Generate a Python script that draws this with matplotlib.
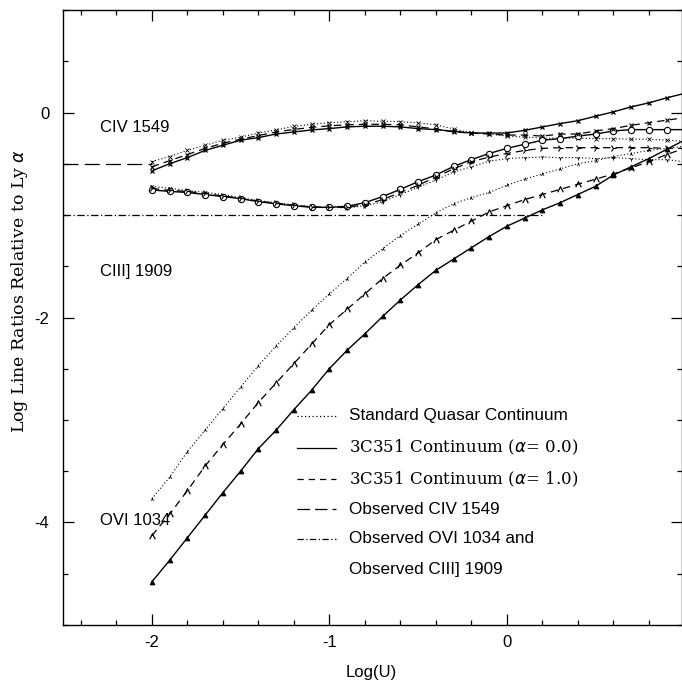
import matplotlib
matplotlib.use("Agg")
import matplotlib.pyplot as plt
from matplotlib.path import Path
from matplotlib.ticker import MultipleLocator

plt.rcParams["axes.unicode_minus"] = False

# Log(U) grid of the photoionization models
log_u = [-2.0, -1.9, -1.8, -1.7, -1.6, -1.5, -1.4, -1.3, -1.2, -1.1, -1.0,
         -0.9, -0.8, -0.7, -0.6, -0.5, -0.4, -0.3, -0.2, -0.1, 0.0,
         0.1, 0.2, 0.3, 0.4, 0.5, 0.6, 0.7, 0.8, 0.9, 1.0]

# CIV 1549 / Ly alpha
civ_std = [-0.48, -0.43, -0.37, -0.32, -0.27, -0.24, -0.20, -0.17, -0.135, -0.115, -0.10,
           -0.09, -0.08, -0.085, -0.09, -0.10, -0.12, -0.16, -0.20, -0.21, -0.23,
           -0.24, -0.25, -0.25, -0.25, -0.255, -0.255, -0.26, -0.26, -0.27, -0.28]
civ_a0 = [-0.57, -0.50, -0.44, -0.37, -0.32, -0.27, -0.245, -0.21, -0.19, -0.17, -0.157,
          -0.14, -0.134, -0.134, -0.14, -0.157, -0.167, -0.183, -0.20, -0.20, -0.20,
          -0.174, -0.141, -0.108, -0.08, -0.036, 0.006, 0.055, 0.094, 0.143, 0.186]
civ_a1 = [-0.53, -0.47, -0.41, -0.35, -0.30, -0.26, -0.225, -0.19, -0.165, -0.145, -0.13,
          -0.12, -0.115, -0.115, -0.12, -0.14, -0.16, -0.19, -0.20, -0.21, -0.22,
          -0.22, -0.23, -0.21, -0.21, -0.18, -0.157, -0.125, -0.10, -0.075, -0.05]

# CIII] 1909 / Ly alpha
ciii_std = [-0.72, -0.74, -0.76, -0.78, -0.80, -0.83, -0.86, -0.88, -0.90, -0.92, -0.925,
            -0.93, -0.91, -0.87, -0.80, -0.73, -0.66, -0.58, -0.53, -0.475, -0.45,
            -0.44, -0.435, -0.44, -0.44, -0.45, -0.44, -0.45, -0.46, -0.46, -0.48]
ciii_a0 = [-0.755, -0.77, -0.78, -0.80, -0.82, -0.84, -0.87, -0.89, -0.91, -0.925, -0.925,
           -0.915, -0.88, -0.82, -0.75, -0.675, -0.61, -0.526, -0.46, -0.40, -0.35,
           -0.31, -0.27, -0.255, -0.23, -0.21, -0.18, -0.167, -0.167, -0.167, -0.167]
ciii_a1 = [-0.74, -0.76, -0.77, -0.79, -0.815, -0.835, -0.865, -0.885, -0.905, -0.92, -0.925,
           -0.925, -0.90, -0.85, -0.78, -0.71, -0.63, -0.55, -0.48, -0.435, -0.40,
           -0.37, -0.35, -0.343, -0.343, -0.343, -0.343, -0.343, -0.343, -0.35, -0.35]

# OVI 1034 / Ly alpha
ovi_std = [-3.77, -3.56, -3.31, -3.10, -2.89, -2.68, -2.47, -2.28, -2.10, -1.93, -1.77,
           -1.62, -1.46, -1.33, -1.20, -1.09, -0.98, -0.89, -0.83, -0.78, -0.71,
           -0.65, -0.60, -0.55, -0.50, -0.47, -0.43, -0.40, -0.37, -0.35, -0.33]
ovi_a0 = [-4.58, -4.37, -4.15, -3.93, -3.71, -3.50, -3.28, -3.10, -2.90, -2.71, -2.50,
          -2.32, -2.16, -1.99, -1.83, -1.68, -1.54, -1.43, -1.32, -1.21, -1.11,
          -1.03, -0.95, -0.88, -0.80, -0.72, -0.61, -0.53, -0.45, -0.36, -0.27]
ovi_a1 = [-4.13, -3.92, -3.69, -3.45, -3.24, -3.04, -2.83, -2.64, -2.45, -2.26, -2.07,
          -1.92, -1.77, -1.62, -1.49, -1.37, -1.24, -1.15, -1.06, -0.97, -0.91,
          -0.85, -0.80, -0.75, -0.70, -0.65, -0.60, -0.54, -0.48, -0.41, -0.35]

# observed ratios (horizontal reference lines)
obs_civ_x = [-2.5, -2.0]
obs_civ_y = [-0.5, -0.5]
obs_ovi_x = [-2.5, 0.2]
obs_ovi_y = [-1.0, -1.0]

# labels
line_names = ["CIV 1549", "CIII] 1909", "OVI 1034"]
line_label_y = [-0.15, -1.55, -3.98]
legend_labels = ["Standard Quasar Continuum",
                 "3C351 Continuum ($\\alpha$= 0.0)",
                 "3C351 Continuum ($\\alpha$= 1.0)",
                 "Observed CIV 1549",
                 "Observed OVI 1034 and",
                 "Observed CIII] 1909"]

sans = "Liberation Sans"
serif = "DejaVu Serif"

# open chevron marker, like a small capital lambda
chevron = Path([(-1, -1), (0, 1), (1, -1)],
               [Path.MOVETO, Path.LINETO, Path.LINETO])

fig = plt.figure(figsize=(6.82, 6.82), dpi=100)
ax = fig.add_axes([0.0924, 0.0836, 0.9076, 0.9017])

nm = len(log_u) - 1  # last point lies on the frame, no marker
ev = list(range(nm))
k = "black"

# standard quasar continuum (dotted)
for y, m in [(civ_std, "x"), (ciii_std, "1"), (ovi_std, "2")]:
    ax.plot(log_u, y, color=k, ls=(0, (1, 2)), lw=0.8, marker=m, ms=3,
            mew=0.6, markevery=ev)
# alpha = 0.0 (solid)
ax.plot(log_u, civ_a0, color=k, lw=1.0, marker="x", ms=3.5, mew=0.9, markevery=ev)
ax.plot(log_u, ciii_a0, color=k, lw=1.0, marker="o", ms=4.5, mew=0.8,
        mfc="white", markevery=ev)
ax.plot(log_u, ovi_a0, color=k, lw=1.0, marker="^", ms=3.5, mew=0.6, markevery=ev)
# alpha = 1.0 (dashed)
ax.plot(log_u, civ_a1, color=k, ls=(0, (6, 4)), lw=0.9, marker="x", ms=3.5,
        mew=0.8, markevery=ev)
ax.plot(log_u, ciii_a1, color=k, ls=(0, (6, 4)), lw=0.9, marker="4", ms=5,
        mew=0.8, markevery=ev)
ax.plot(log_u, ovi_a1, color=k, ls=(0, (6, 4)), lw=0.9, marker=chevron, ms=4,
        mew=0.9, mfc="none", markevery=ev)

# observed values
ax.plot(obs_civ_x, obs_civ_y, color=k, ls=(0, (12, 5)), lw=0.9)
ax.plot(obs_ovi_x, obs_ovi_y, color=k, ls=(0, (6, 2, 1, 2)), lw=0.9)

for name, yy in zip(line_names, line_label_y):
    ax.text(-2.29, yy, name, family=sans, fontsize=12, va="center", ha="left")

# legend drawn by hand
leg_y = [-2.96, -3.27, -3.58, -3.87, -4.16, -4.46]
styles = [(0, (1, 2)), "-", (0, (5, 4)), (0, (10, 4)), (0, (5, 2, 1, 2))]
for i, lab in enumerate(legend_labels):
    if i < len(styles):
        ax.plot([-1.18, -0.96], [leg_y[i], leg_y[i]], color=k, ls=styles[i], lw=0.9)
    fam = serif if i in (1, 2) else sans
    ax.text(-0.89, leg_y[i], lab, family=fam, fontsize=12.3 if fam == sans else 12,
            va="center", ha="left")

ax.set_xlim(-2.5, 0.987)
ax.set_ylim(-5, 1)
ax.xaxis.set_major_locator(MultipleLocator(1))
ax.xaxis.set_minor_locator(MultipleLocator(0.2))
ax.yaxis.set_major_locator(MultipleLocator(2))
ax.yaxis.set_minor_locator(MultipleLocator(0.5))
ax.tick_params(which="both", direction="in", top=True, right=True, width=0.9)
ax.tick_params(which="major", length=8)
ax.tick_params(which="minor", length=3.6)
ax.tick_params(axis="x", pad=7)
ax.tick_params(axis="y", pad=10)
for lab in ax.get_xticklabels() + ax.get_yticklabels():
    lab.set_family(sans)
    lab.set_fontsize(12)
for s in ax.spines.values():
    s.set_linewidth(1.0)

fig.text(0.545, 1 - 673 / 682, "Log(U)", family=sans, fontsize=12,
         ha="center", va="center")
fig.text(20 / 682, 0.573, "Log Line Ratios Relative to Ly $\\alpha$", family=serif,
         fontsize=12.5, rotation=90, ha="center", va="center")

fig.savefig("out.png", dpi=100)
